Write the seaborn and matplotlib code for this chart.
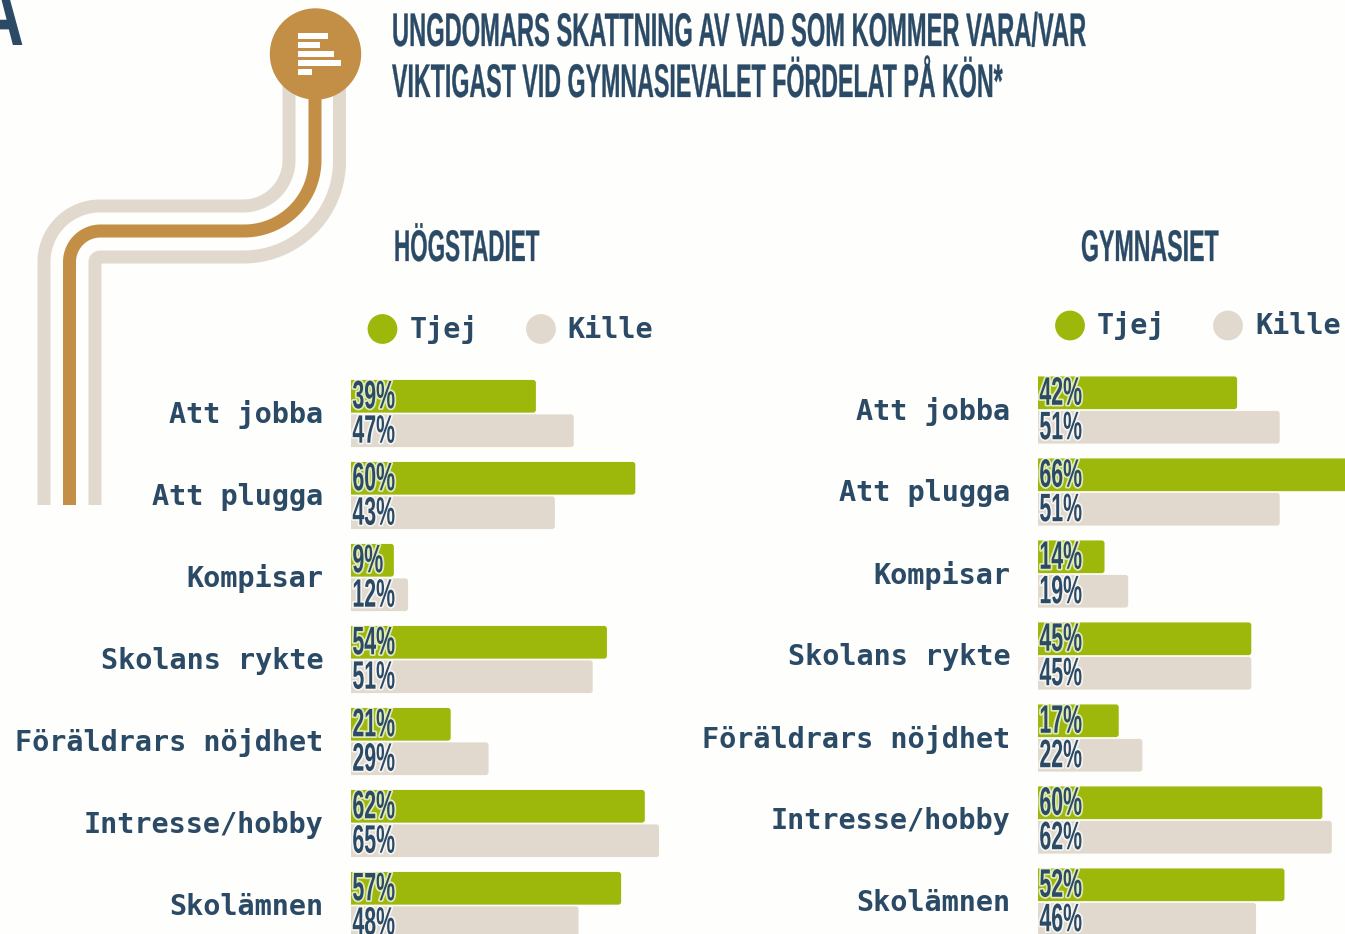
import numpy as np
import pandas as pd
import matplotlib
matplotlib.use('Agg')
import matplotlib.pyplot as plt
import matplotlib.patheffects as pe
from matplotlib.patches import FancyBboxPatch, Circle, Rectangle
from matplotlib.transforms import Affine2D, ScaledTranslation
import seaborn as sns

categories = ['Att jobba', 'Att plugga', 'Kompisar', 'Skolans rykte',
              'Föräldrars nöjdhet', 'Intresse/hobby', 'Skolämnen']
hog_tjej = [39, 60, 9, 54, 21, 62, 57]
hog_kille = [47, 43, 12, 51, 29, 65, 48]
gym_tjej = [42, 66, 14, 45, 17, 60, 52]
gym_kille = [51, 51, 19, 45, 22, 62, 46]
groups = ['Tjej', 'Kille']
title_lines = ['UNGDOMARS SKATTNING AV VAD SOM KOMMER VARA/VAR',
               'VIKTIGAST VID GYMNASIEVALET FÖRDELAT PÅ KÖN*']

W, H = 1345, 934
GREEN = '#9DB80A'
BEIGE = '#E1D9CD'
BRONZE = '#C38F46'
INK = '#2A4A66'
BG = '#FEFEFC'
PX_PER_PCT = 4.735
ROW = 82
MONO = 'DejaVu Sans Mono'


class Squeeze(pe.AbstractPathEffect):
    # condensed look: real text, glyphs rescaled while drawing
    def __init__(self, sx, sy=1, halo=0, bold=0):
        super().__init__()
        self.sx, self.sy, self.halo, self.bold = sx, sy, halo, bold

    def draw_path(self, renderer, gc, tpath, affine, rgbFace=None):
        aff = Affine2D().scale(self.sx, self.sy) + affine
        if self.halo:
            gc0 = renderer.new_gc()
            gc0.copy_properties(gc)
            gc0.set_foreground('white')
            gc0.set_alpha(0.7)
            gc0.set_linewidth(self.halo)
            renderer.draw_path(gc0, tpath, aff, None)
            gc0.restore()
        gc1 = renderer.new_gc()
        gc1.copy_properties(gc)
        gc1.set_foreground(INK)
        gc1.set_linewidth(self.bold)
        renderer.draw_path(gc1, tpath, aff, rgbFace)
        gc1.restore()


def pixel_axes(left, top, right, bottom):
    return fig.add_axes([left / W, 1 - bottom / H, (right - left) / W, (bottom - top) / H])


def draw_panel(left, row0, tjej, kille):
    df = pd.DataFrame({
        'kategori': categories * 2,
        'kon': [groups[0]] * 7 + [groups[1]] * 7,
        'andel': tjej + kille,
    })
    right = left + 72 * PX_PER_PCT
    ax = pixel_axes(left, row0 - ROW / 2, right, row0 + 6.5 * ROW)
    sns.barplot(data=df, y='kategori', x='andel', hue='kon', order=categories, hue_order=groups,
                palette=[GREEN, BEIGE], width=0.84, gap=0.05, saturation=1, legend=False, ax=ax)
    ax.set_xlim(0, 72)
    ax.set_ylim(6.5, -0.5)
    ax.set_xlabel('')
    ax.set_ylabel('')
    ax.set_xticks([])
    ax.patch.set_alpha(0)
    sns.despine(ax=ax, left=True, bottom=True)
    ax.tick_params(axis='y', length=0, pad=20)
    nudge = ScaledTranslation(0, 1.5 / 72, fig.dpi_scale_trans)
    for lab in ax.get_yticklabels():
        lab.set_family(MONO)
        lab.set_weight('bold')
        lab.set_size(20.5)
        lab.set_color(INK)
        lab.set_transform(lab.get_transform() + nudge)
    bars = list(ax.patches)
    for bar in bars:
        x, y, w, h = bar.get_x(), bar.get_y(), bar.get_width(), bar.get_height()
        col = bar.get_facecolor()
        bar.remove()
        ax.add_patch(FancyBboxPatch((x - 1, y - 0.006), w + 1.05, h, facecolor=col, edgecolor='none',
                                    boxstyle='round,pad=0,rounding_size=0.6',
                                    mutation_aspect=PX_PER_PCT / ROW))
    # percent labels sit at the start of each bar
    for i, (a, b) in enumerate(zip(tjej, kille)):
        for val, off in ((a, -0.21), (b, 0.21)):
            ax.text(0.3, i + off + 0.14, f'{val}%', fontsize=21, family='Liberation Sans',
                    weight='bold', color=INK, va='baseline', ha='left',
                    path_effects=[Squeeze(0.73, sy=1.36, halo=2.5)])
    return ax


def draw_legend(ax, y, x1, x2, t1, t2):
    ax.scatter([x1, x2], [y, y], s=460, c=[GREEN, BEIGE], linewidths=0)
    for name, tx in zip(groups, (t1, t2)):
        ax.text(tx, y + 0.5, name, family=MONO, weight='bold', fontsize=20.5,
                color=INK, va='center', ha='left')


def road(ax, xtop, ymid, xbot, r1, r2, color):
    # vertical - bend - horizontal - bend - vertical
    t = np.linspace(0, np.pi / 2, 40)
    xs = [xtop]
    ys = [60]
    xs += list(xtop - r1 + r1 * np.cos(t))
    ys += list(ymid - r1 + r1 * np.sin(t))
    xs += list(xbot + r2 - r2 * np.sin(t))
    ys += list(ymid + r2 - r2 * np.cos(t))
    xs.append(xbot)
    ys.append(505)
    ax.plot(xs, ys, color=color, lw=13 * 0.72, solid_capstyle='butt', solid_joinstyle='round')


sns.set_theme(style='white')
plt.rcParams['font.family'] = ['Liberation Sans', 'DejaVu Sans']

fig = plt.figure(figsize=(W / 100, H / 100), dpi=100, facecolor=BG)

bg = pixel_axes(0, 0, W, H)
bg.set_xlim(0, W)
bg.set_ylim(H, 0)
bg.axis('off')

road(bg, 289, 206, 44, 46, 56, BEIGE)
road(bg, 339.5, 257, 95, 96, 5, BEIGE)
road(bg, 315, 231, 69.5, 71, 31, BRONZE)
bg.add_patch(Circle((315.5, 54), 45, color=BRONZE, zorder=3))
for x0, x1, y0, y1 in [(298, 328, 33, 39), (298, 320, 42, 48), (298, 334, 51, 57),
                       (298, 341, 60, 66), (298, 312, 69, 75)]:
    bg.add_patch(Rectangle((x0, y0), x1 - x0, y1 - y0, color='white', lw=0, zorder=4))

bg.text(-24, 45, 'A', fontsize=64, weight='bold', color=INK, ha='left', va='baseline',
        path_effects=[Squeeze(0.75)])
bg.text(392, 46, title_lines[0], fontsize=22, weight='bold', color=INK, va='baseline',
        path_effects=[Squeeze(0.775, sy=1.545, bold=0.2)])
bg.text(392, 97, title_lines[1], fontsize=22, weight='bold', color=INK, va='baseline',
        path_effects=[Squeeze(0.76, sy=1.545, bold=0.2)])
bg.text(394, 261, 'HÖGSTADIET', fontsize=29, weight='bold', color=INK, va='baseline',
        path_effects=[Squeeze(0.557, sy=1.1, bold=0.2)])
bg.text(1081, 261, 'GYMNASIET', fontsize=29, weight='bold', color=INK, va='baseline',
        path_effects=[Squeeze(0.575, sy=1.1, bold=0.2)])

draw_legend(bg, 329, 382.5, 541, 410, 567)
draw_legend(bg, 325.5, 1070, 1228, 1097, 1255)

draw_panel(351, 414, hog_tjej, hog_kille)
draw_panel(1038, 410.5, gym_tjej, gym_kille)

fig.savefig('out.png', dpi=100, facecolor=BG)
plt.close(fig)
